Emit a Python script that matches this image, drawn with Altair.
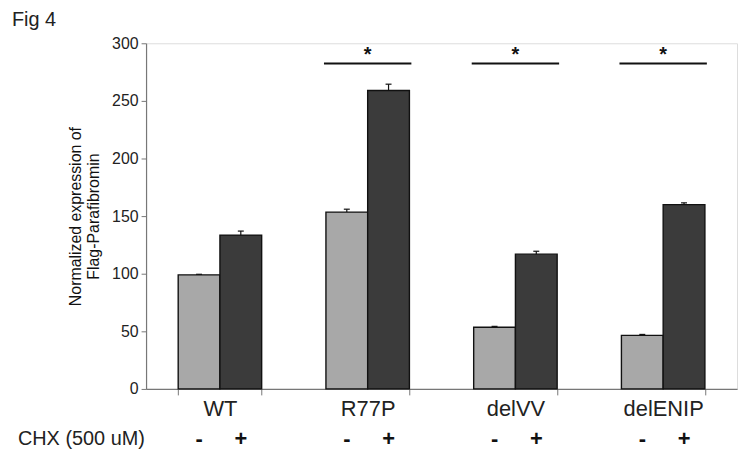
import altair as alt
import pandas as pd

groups = ["WT", "R77P", "delVV", "delENIP"]
conds = ["-", "+"]
minus_vals = [99, 153.5, 53.5, 46.5]
plus_vals = [133.5, 259, 117, 160]
minus_err = [0.5, 2.5, 0.8, 0.8]
plus_err = [3.5, 5.5, 2.5, 1.5]
sig_groups = ["R77P", "delVV", "delENIP"]
sig_line = [282.5, 282.5, 282.5]
sig_star = [290, 290, 290]
y_ticks = [0, 50, 100, 150, 200, 250, 300]

rows = []
for i, g in enumerate(groups):
    rows.append({"group": g, "cond": "-", "value": minus_vals[i], "top": minus_vals[i] + minus_err[i]})
    rows.append({"group": g, "cond": "+", "value": plus_vals[i], "top": plus_vals[i] + plus_err[i]})
df = pd.DataFrame(rows)
sig = pd.DataFrame({"group": sig_groups, "line": sig_line, "star": sig_star})

FONT = "Liberation Sans"
W, H = 595, 348

xscale = alt.Scale(domain=groups, paddingInner=0.435, paddingOuter=0.2175)
xax = alt.Axis(title=None, labelFontSize=22, labelColor="#222", labelFont=FONT, labelAngle=0,
               tickBand="extent", tickSize=6, tickColor="#777", domainColor="#777",
               labelPadding=4, domainWidth=1.2)
xoff = alt.XOffset("cond:N", sort=conds, scale=alt.Scale(paddingInner=0, paddingOuter=0))
yscale = alt.Scale(domain=[0, 300], nice=False)
yax = alt.Axis(values=y_ticks, grid=False, tickSize=5, tickColor="#777", domainColor="#777",
               labelFontSize=16, labelColor="#222", labelFont=FONT, labelPadding=3,
               title=["Normalized expression of", "Flag-Parafibromin"], titleFontSize=16,
               titleLineHeight=18,
               titleFontWeight="normal", titleFont=FONT, titleColor="#111", titlePadding=10,
               domainWidth=1.2)

base = alt.Chart(df)

bars = base.mark_bar(stroke="#111", strokeWidth=1.4).encode(
    x=alt.X("group:N", sort=groups, scale=xscale, axis=xax),
    xOffset=xoff,
    y=alt.Y("value:Q", scale=yscale, axis=yax),
    color=alt.Color("cond:N", scale=alt.Scale(domain=conds, range=["#a8a8a8", "#3b3b3b"]), legend=None),
)

err = base.mark_rule(color="#111", strokeWidth=1.2).encode(
    x=alt.X("group:N", sort=groups),
    xOffset=xoff,
    y="value:Q",
    y2="top:Q",
)
cap = base.mark_tick(color="#111", size=6, thickness=1.2, orient="horizontal", opacity=1).encode(
    x=alt.X("group:N", sort=groups),
    xOffset=xoff,
    y="top:Q",
)

sign = base.mark_text(fontSize=22, fontWeight="bold", font=FONT, color="#111", baseline="middle").encode(
    x=alt.X("group:N", sort=groups),
    xOffset=xoff,
    y=alt.value(H + 50),
    text="cond:N",
)

sig_base = alt.Chart(sig)
sig_rule = sig_base.mark_tick(color="#111", size=88, thickness=2, orient="horizontal", opacity=1).encode(
    x=alt.X("group:N", sort=groups),
    y="line:Q",
)
sig_text = sig_base.mark_text(text="*", fontSize=20, fontWeight="bold", font=FONT, color="#111",
                              baseline="middle").encode(
    x=alt.X("group:N", sort=groups),
    y="star:Q",
)

chx = alt.Chart(pd.DataFrame({"t": ["CHX (500 uM)"]})).mark_text(
    fontSize=20, font=FONT, color="#222", align="left", baseline="middle"
).encode(x=alt.value(-129), y=alt.value(H + 50), text="t:N")

fig = alt.Chart(pd.DataFrame({"t": ["Fig 4"]})).mark_text(
    fontSize=20, font=FONT, color="#222", align="left", baseline="top"
).encode(x=alt.value(-135), y=alt.value(-33), text="t:N")

chart = alt.layer(bars, err, cap, sign, sig_rule, sig_text, chx, fig).properties(
    width=W, height=H,
    autosize=alt.AutoSizeParams(type="none"),
    padding={"left": 139, "top": 34, "right": 5, "bottom": 65},
).configure_view(stroke=None).configure(background="white")

chart.save("out.html", embed_options={"renderer": "svg", "actions": False})
